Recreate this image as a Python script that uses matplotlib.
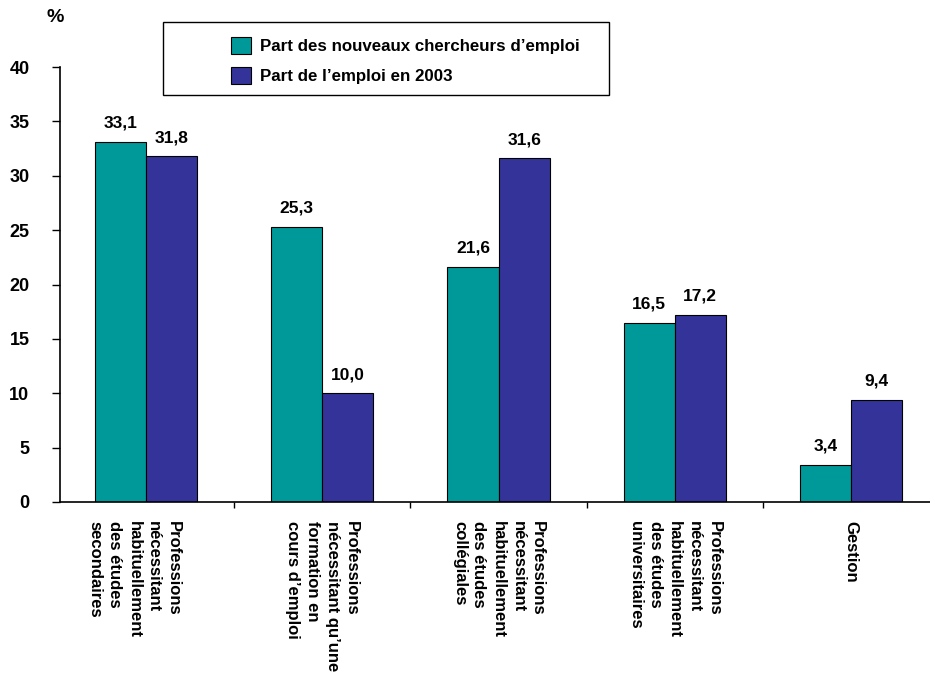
import matplotlib.pyplot as plt
import matplotlib.patches as mpatches
import numpy as np

plt.rcParams['font.family'] = ['Liberation Sans', 'DejaVu Sans']
plt.rcParams['font.weight'] = 'bold'

categories = [
    "Professions\nnécessitant\nhabituellement\ndes études\nsecondaires",
    "Professions\nnécessitant qu\u2019une\nformation en\ncours d\u2019emploi",
    "Professions\nnécessitant\nhabituellement\ndes études\ncollégiales",
    "Professions\nnécessitant\nhabituellement\ndes études\nuniversitaires",
    "Gestion",
]
nouveaux = [33.1, 25.3, 21.6, 16.5, 3.4]
emploi_2003 = [31.8, 10.0, 31.6, 17.2, 9.4]
series_names = ["Part des nouveaux chercheurs d\u2019emploi", "Part de l\u2019emploi en 2003"]
yticks = [0, 5, 10, 15, 20, 25, 30, 35, 40]

teal = "#009999"
navy = "#333399"

fig = plt.figure(figsize=(9.3, 6.75), dpi=100)
ax = fig.add_axes([60 / 930, 1 - 502 / 675, 870 / 930, 435 / 675])

x = np.arange(len(categories))
w = 0.29
b1 = ax.bar(x - w / 2, nouveaux, w, color=teal, edgecolor="black", linewidth=0.8, label=series_names[0])
b2 = ax.bar(x + w / 2, emploi_2003, w, color=navy, edgecolor="black", linewidth=0.8, label=series_names[1])

for bars, vals in [(b1, nouveaux), (b2, emploi_2003)]:
    for r, v in zip(bars, vals):
        ax.annotate(f"{v:.1f}".replace(".", ","), (r.get_x() + r.get_width() / 2, v),
                    xytext=(0, 8), textcoords="offset points", ha="center", va="bottom",
                    fontsize=12.5, fontweight="bold")

ax.set_xlim(-0.488, 4.448)
ax.set_ylim(0, 40)
ax.set_yticks(yticks)
ax.set_yticklabels([str(t) for t in yticks], fontsize=13, fontweight="bold")
ax.tick_params(axis="y", length=6, width=1, direction="out", pad=16)

# category labels, written downward under each group
ax.set_xticks([])
for i, lab in enumerate(categories):
    dx = -12 if i == 0 else 0   # first block sits a bit left in the original
    ax.annotate(lab, (i, 0), xycoords=("data", "axes fraction"),
                xytext=(dx, -19), textcoords="offset pixels",
                rotation=270, fontsize=12, fontweight="bold",
                va="top", ha="center", multialignment="left", linespacing=1.38,
                annotation_clip=False)
ax.set_xticks(x[:-1] + 0.5, minor=True)
ax.tick_params(axis="x", which="minor", length=4, width=1, direction="out")

for s in ["top", "right"]:
    ax.spines[s].set_visible(False)
ax.spines["left"].set_linewidth(1.2)
ax.spines["bottom"].set_linewidth(1.2)

fig.text(46 / 930, 1 - 18 / 675, "%", fontsize=14, fontweight="bold", va="center")

# legend frame
fig.patches.append(mpatches.Rectangle((163 / 930, 1 - 95 / 675), 446 / 930, 73 / 675,
                                      transform=fig.transFigure, facecolor="white",
                                      edgecolor="black", linewidth=1, zorder=5))
leg = fig.legend(handles=[b1, b2], loc="upper left", bbox_to_anchor=(216 / 930, 1 - 22 / 675),
                 frameon=False, prop={"weight": "bold", "size": 12.2},
                 handlelength=1.15, handleheight=1.15, handletextpad=0.55, labelspacing=0.75)
leg.set_zorder(6)

fig.savefig("out.png", dpi=100)
